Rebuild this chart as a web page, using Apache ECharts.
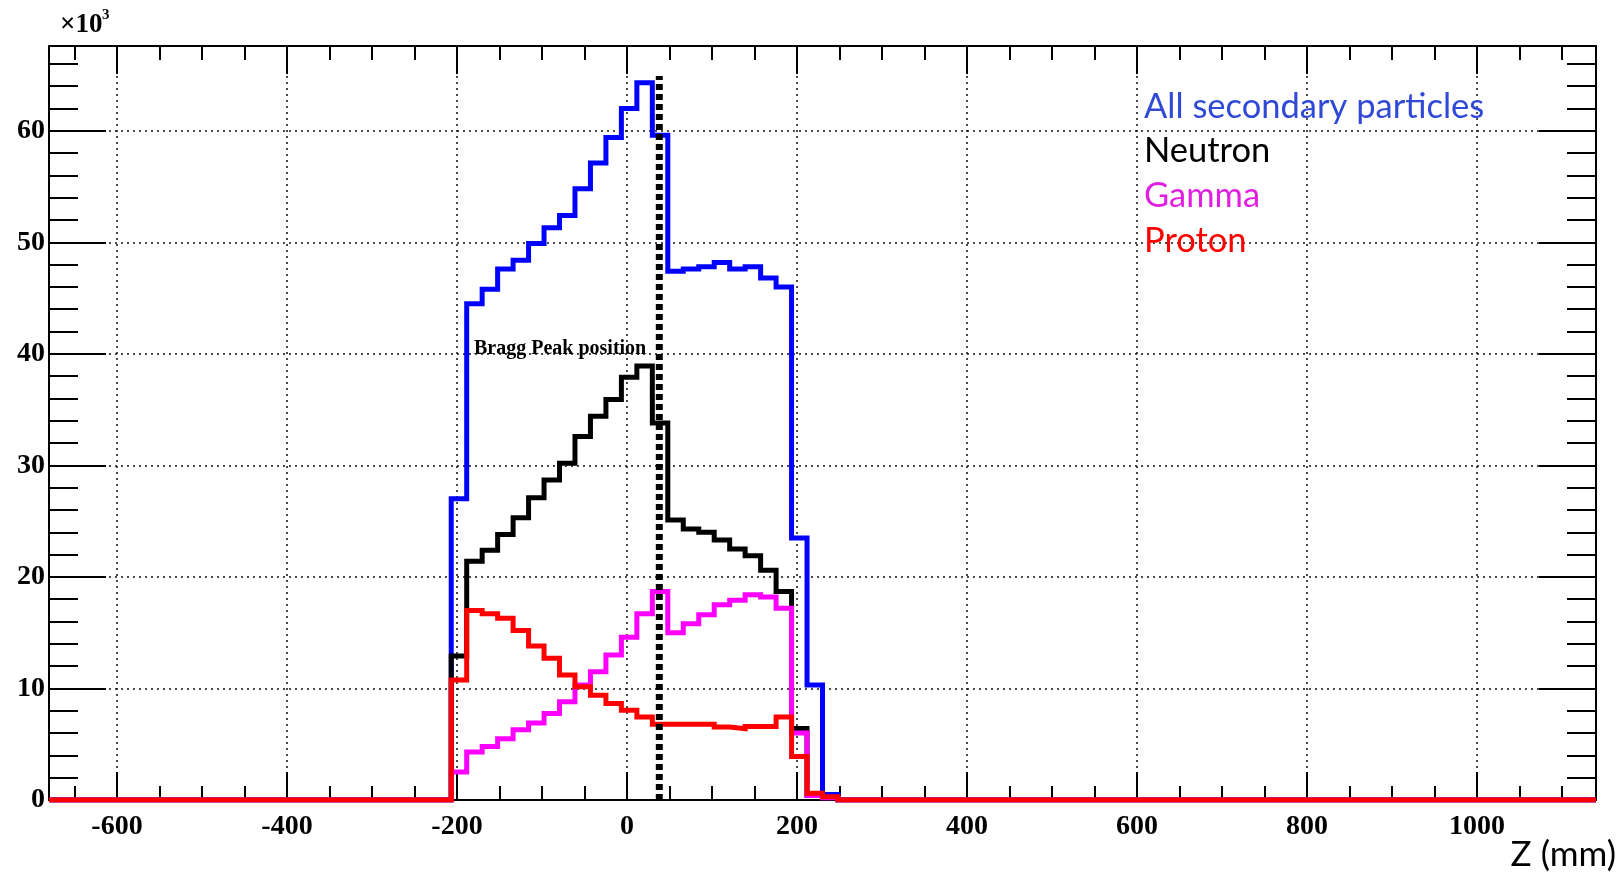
<!DOCTYPE html>
<html>
<head>
<meta charset="utf-8">
<title>Secondary particles along Z</title>
<script src="https://cdn.jsdelivr.net/npm/echarts@6/dist/echarts.min.js"></script>
<style>
  html, body { margin: 0; padding: 0; background: #fff; }
  #chart { width: 1623px; height: 875px; }
</style>
</head>
<body>
<div id="chart"></div>
<script>
// histogram: 100 bins of 18.2 mm from -680 to 1140, counts in units of 10^3
const zMin = -680;
const zMax = 1140;
const binWidth = 18.2;
const firstBin = 26; // bins before this one are empty (and after the arrays end)

const allSecondary = [27.0, 44.5, 45.8, 47.6, 48.4, 49.9, 51.3, 52.4, 54.8, 57.1, 59.4, 62.0, 64.3,
  59.6, 47.4, 47.6, 47.8, 48.2, 47.6, 47.8, 46.8, 46.0, 23.5, 10.3, 0.5];
const neutron = [12.9, 21.4, 22.4, 23.8, 25.3, 27.1, 28.7, 30.2, 32.6, 34.4, 35.9, 37.9, 38.9,
  33.8, 25.1, 24.3, 24.0, 23.3, 22.5, 21.9, 20.6, 18.7, 6.4, 0.4, 0.2];
const gamma = [2.5, 4.3, 4.8, 5.5, 6.3, 6.9, 7.75, 8.8, 10.3, 11.5, 13.0, 14.6, 16.7,
  18.7, 15.0, 15.8, 16.6, 17.5, 17.9, 18.4, 18.2, 17.2, 6.0, 0.4, 0.2];
const proton = [10.75, 17.0, 16.7, 16.3, 15.2, 13.8, 12.7, 11.2, 10.15, 9.4, 8.65, 8.05, 7.45,
  6.8, 6.8, 6.8, 6.8, 6.55, 6.4, 6.6, 6.6, 7.45, 3.9, 0.6, 0.3];

const braggZ = 38;
const braggTop = 64.9;
const yMax = 67.6;

const legendNames = ['All secondary particles', 'Neutron', 'Gamma', 'Proton'];
const legendColors = ['#3049d6', '#000000', '#e020e0', '#ff0000'];
const lineColors = ['#0000ff', '#000000', '#ff00ff', '#ff0000'];

const nBins = Math.round((zMax - zMin) / binWidth);

// bin edges + counts, last point closes the final bin
const toSteps = (counts) => {
  const pts = [];
  for (let i = 0; i < nBins; i++) {
    const c = counts[i - firstBin];
    pts.push([zMin + i * binWidth, c === undefined ? 0 : c]);
  }
  pts.push([zMax, pts[pts.length - 1][1]]);
  return pts;
};

const serif = '"Liberation Serif", "Times New Roman", serif';
const sans = 'Lato, "Noto Sans", sans-serif';
const black = '#000';

const frameLine = { show: true, onZero: false, lineStyle: { color: black, width: 2 } };
const grid = { show: true, type: [2, 4], color: '#111', width: 1.5 };

const xBase = {
  type: 'value',
  min: zMin,
  max: zMax,
  splitNumber: 9,
  axisLine: frameLine,
  axisTick: { show: true, inside: true, length: 28, lineStyle: { color: black, width: 2 } },
  minorTick: { show: true, splitNumber: 4, length: 14, lineStyle: { color: black, width: 2 } },
};
const yBase = {
  type: 'value',
  min: 0,
  max: yMax,
  interval: 10,
  axisLine: frameLine,
  axisTick: { show: true, inside: true, length: 57, lineStyle: { color: black, width: 2 } },
  minorTick: { show: true, splitNumber: 5, length: 29, lineStyle: { color: black, width: 2 } },
};

const series = [allSecondary, neutron, gamma, proton].map((counts, i) => ({
  name: legendNames[i],
  type: 'line',
  step: 'end',
  data: toSteps(counts),
  symbol: 'none',
  showSymbol: false,
  lineStyle: { color: lineColors[i], width: 5, join: 'miter' },
  itemStyle: { color: lineColors[i] },
  z: 3 + i,
}));

series.push({
  name: 'Bragg Peak position',
  type: 'line',
  data: [[braggZ, 0], [braggZ, braggTop]],
  symbol: 'none',
  lineStyle: { color: black, width: 7, type: [6, 4], cap: 'butt' },
  z: 10,
});

const legendTop = [107, 151, 196, 241];
const textItems = legendNames.map((name, i) => ({
  type: 'text',
  x: 1144,
  y: legendTop[i],
  style: { text: name, font: '34.5px ' + sans, fill: legendColors[i], verticalAlign: 'middle' },
  z: 20,
}));

const tickLabel = {
  show: true,
  color: black,
  fontFamily: serif,
  fontWeight: 'bold',
  fontSize: 28,
  formatter: (v) => String(v),
};

const chart = echarts.init(document.getElementById('chart'));
chart.setOption({
  animation: false,
  backgroundColor: '#fff',
  grid: { left: 49, right: 27, top: 46, bottom: 75, outerBoundsMode: 'none', containLabel: false },
  xAxis: [
    {
      ...xBase,
      position: 'bottom',
      axisLabel: { ...tickLabel, showMinLabel: false, showMaxLabel: false, margin: 13 },
      splitLine: { show: true, lineStyle: grid },
    },
    {
      ...xBase,
      position: 'top',
      axisLabel: { show: false },
      splitLine: { show: false },
    },
  ],
  yAxis: [
    {
      ...yBase,
      position: 'left',
      axisLabel: { ...tickLabel, showMaxLabel: false, margin: 4 },
      splitLine: { show: true, lineStyle: grid },
    },
    {
      ...yBase,
      position: 'right',
      axisLabel: { show: false },
      splitLine: { show: false },
    },
  ],
  series: series,
  graphic: [
    ...textItems,
    {
      type: 'text',
      x: 474,
      y: 349,
      style: { text: 'Bragg Peak position', font: 'bold 20px ' + serif, fill: black, verticalAlign: 'middle' },
      z: 20,
    },
    {
      type: 'text',
      x: 1616,
      y: 855,
      style: { text: 'Z (mm)', font: '35px ' + sans, fill: black, align: 'right', verticalAlign: 'middle' },
    },
    {
      type: 'text',
      x: 60,
      y: 25,
      style: { text: '×10', font: 'bold 27px ' + serif, fill: black, verticalAlign: 'middle' },
    },
    {
      type: 'text',
      x: 102,
      y: 15,
      style: { text: '3', font: 'bold 15px ' + serif, fill: black, verticalAlign: 'middle' },
    },
  ],
});
</script>
</body>
</html>
